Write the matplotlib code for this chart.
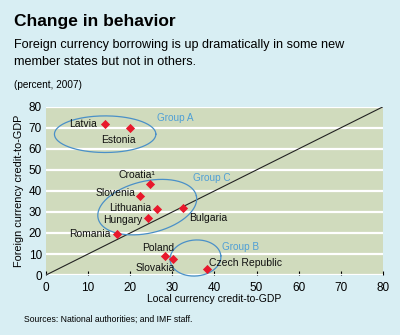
import matplotlib
matplotlib.use("Agg")
import matplotlib.pyplot as plt
import numpy as np
from matplotlib import font_manager

names = {f.name for f in font_manager.fontManager.ttflist}
narrow = 'Liberation Sans Narrow' if 'Liberation Sans Narrow' in names else 'Liberation Sans'
plt.rcParams['font.family'] = [narrow, 'DejaVu Sans']

countries = ['Latvia', 'Estonia', 'Croatia¹', 'Slovenia', 'Lithuania', 'Hungary',
             'Bulgaria', 'Romania', 'Poland', 'Slovakia', 'Czech Republic']
local_credit = [14.0, 20.0, 24.6, 22.3, 26.4, 24.2, 32.6, 16.8, 28.3, 30.1, 38.3]
foreign_credit = [72.0, 70.0, 43.5, 37.5, 31.5, 27.0, 32.0, 19.5, 9.0, 7.5, 3.0]
# label anchor (x, y) and alignment
label_pos = [(12.2, 72), (17.3, 64), (25.9, 47.4), (21.2, 39), (25.0, 32), (23.0, 26.3),
             (34.0, 27), (15.4, 19.6), (26.6, 13), (25.9, 3.5), (38.8, 5.6)]
label_ha = ['right', 'center', 'right', 'right', 'right', 'right',
            'left', 'right', 'center', 'center', 'left']

groups = ['Group A', 'Group C', 'Group B']
group_label_pos = [(30.7, 74.6), (35.0, 46.0), (41.8, 13.5)]
group_label_ha = ['center', 'left', 'left']
# ellipse: centre (data), semi-axes (px), angle (deg, on screen)
group_ellipse = [((14.05, 67.0), 50.7, 18.3, 0),
                 ((24.05, 32.3), 50.4, 26.0, 13),
                 ((35.5, 8.1), 25.5, 18.0, 5)]

bg = '#d8eef3'
plot_bg = '#d0dbbd'
red = '#e8182c'
blue = '#4a90c8'

fig = plt.figure(figsize=(4, 3.35), dpi=100, facecolor=bg)
ax = fig.add_axes([0.115, 0.179, 0.842, 0.502], facecolor=plot_bg)
ax.set_xlim(0, 80)
ax.set_ylim(0, 80)
for s in ax.spines.values():
    s.set_visible(False)
ax.set_yticks(range(0, 90, 10))
ax.set_xticks(range(0, 90, 10))
ax.yaxis.grid(True, color='white', linewidth=1.6)
ax.set_axisbelow(True)
ax.tick_params(axis='y', length=0, pad=3, labelsize=8.5)
ax.tick_params(axis='x', direction='in', length=3, width=0.8, pad=5, labelsize=8.5)
ax.set_xlabel('Local currency credit-to-GDP', fontsize=7.5, labelpad=0)
ax.set_ylabel('Foreign currency credit-to-GDP', fontsize=7.8, labelpad=3)

ax.plot([0, 80], [0, 80], color='#222222', linewidth=0.8)
ax.scatter(local_credit, foreign_credit, marker='D', s=22, color=red, zorder=3, linewidths=0)

for name, (lx, ly), ha in zip(countries, label_pos, label_ha):
    ax.text(lx, ly, name, ha=ha, va='center', fontsize=7.5, color='#111111')

# ellipses drawn in screen proportions
sx = 0.842 * 400 / 80
sy = 0.502 * 335 / 80
t = np.linspace(0, 2 * np.pi, 200)
for (c, a, b, ang), g, (gx, gy), ha in zip(group_ellipse, groups, group_label_pos, group_label_ha):
    th = np.radians(ang)
    ex = c[0] + (a * np.cos(t) * np.cos(th) - b * np.sin(t) * np.sin(th)) / sx
    ey = c[1] + (a * np.cos(t) * np.sin(th) + b * np.sin(t) * np.cos(th)) / sy
    ax.plot(ex, ey, color=blue, linewidth=0.9, clip_on=False)
    ax.text(gx, gy, g, ha=ha, va='center', fontsize=7.2, color='#4f9fd6')

fig.text(0.035, 0.937, 'Change in behavior', fontsize=12.5, fontweight='bold', va='center')
fig.text(0.035, 0.866, 'Foreign currency borrowing is up dramatically in some new',
         fontsize=9.1, va='center')
fig.text(0.035, 0.815, 'member states but not in others.', fontsize=9.1, va='center')
fig.text(0.035, 0.746, '(percent, 2007)', fontsize=7.2, va='center')
fig.text(0.06, 0.048, 'Sources: National authorities; and IMF staff.', fontsize=6.2, va='center')

fig.savefig('out.png', dpi=100, facecolor=bg)
